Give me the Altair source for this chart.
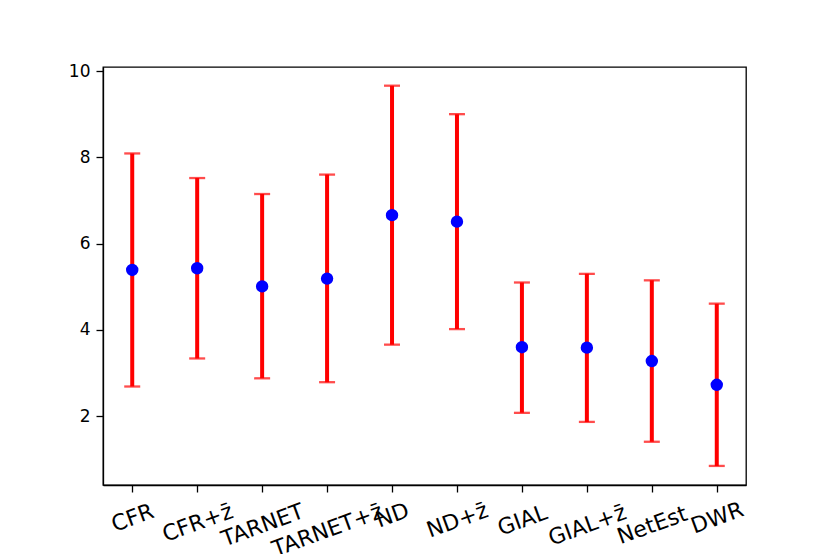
import altair as alt
import pandas as pd

labels = ["CFR", "CFR+z\u0304", "TARNET", "TARNET+z\u0304", "ND", "ND+z\u0304",
          "GIAL", "GIAL+z\u0304", "NetEst", "DWR"]
means = [5.39, 5.43, 5.01, 5.19, 6.66, 6.51, 3.60, 3.59, 3.28, 2.73]
lower = [2.69, 3.34, 2.88, 2.79, 3.66, 4.02, 2.08, 1.87, 1.41, 0.85]
upper = [8.09, 7.52, 7.15, 7.60, 9.66, 9.00, 5.10, 5.30, 5.15, 4.61]
y_ticks = [2, 4, 6, 8, 10]

df = pd.DataFrame({"method": labels, "mean": means, "lo": lower, "hi": upper})

FONT = "DejaVu Sans"

x_enc = alt.X(
    "method:N",
    sort=labels,
    scale=alt.Scale(type="point", padding=0.45),
    axis=alt.Axis(
        title=None,
        labelAngle=340,
        labelAlign="center",
        labelBaseline="middle",
        labelFontSize=22,
        labelFont=FONT,
        labelColor="black",
        labelOverlap=False,
        labelPadding=alt.ExprRef(
            expr="18 + 2.48*length(replace(datum.label, '\u0304', ''))"
        ),
        tickSize=7,
        tickColor="black",
        tickWidth=1.3,
        domainColor="black",
        domainWidth=1.3,
        grid=False,
    ),
)

y_scale = alt.Scale(domain=[0.408, 10.093], nice=False, zero=False)
y_axis = alt.Axis(
    title=None,
    values=y_ticks,
    labelFontSize=17,
    labelFont=FONT,
    labelColor="black",
    labelPadding=6,
    tickSize=7,
    tickColor="black",
    tickWidth=1.3,
    domainColor="black",
    domainWidth=1.3,
    grid=False,
)

base = alt.Chart(df)

bars = base.mark_rule(color="#ff0000", strokeWidth=4).encode(
    x=x_enc,
    y=alt.Y("lo:Q", scale=y_scale, axis=y_axis),
    y2="hi:Q",
)

caps_lo = base.mark_tick(color="#ff0000", size=16, thickness=2.3, orient="horizontal").encode(
    x=x_enc, y=alt.Y("lo:Q", scale=y_scale)
)
caps_hi = base.mark_tick(color="#ff0000", size=16, thickness=2.3, orient="horizontal").encode(
    x=x_enc, y=alt.Y("hi:Q", scale=y_scale)
)

dots = base.mark_circle(color="#0000ff", size=154, opacity=1).encode(
    x=x_enc, y=alt.Y("mean:Q", scale=y_scale)
)

chart = (
    alt.layer(bars, caps_lo, caps_hi, dots)
    .properties(
        width=643,
        height=418,
        autosize=alt.AutoSizeParams(type="none"),
        padding={"left": 95, "top": 59, "right": 70, "bottom": 80},
        background="white",
    )
    .configure_view(stroke="black", strokeWidth=1.3)
)

chart.save("out.html", embed_options={"renderer": "svg", "actions": False})
